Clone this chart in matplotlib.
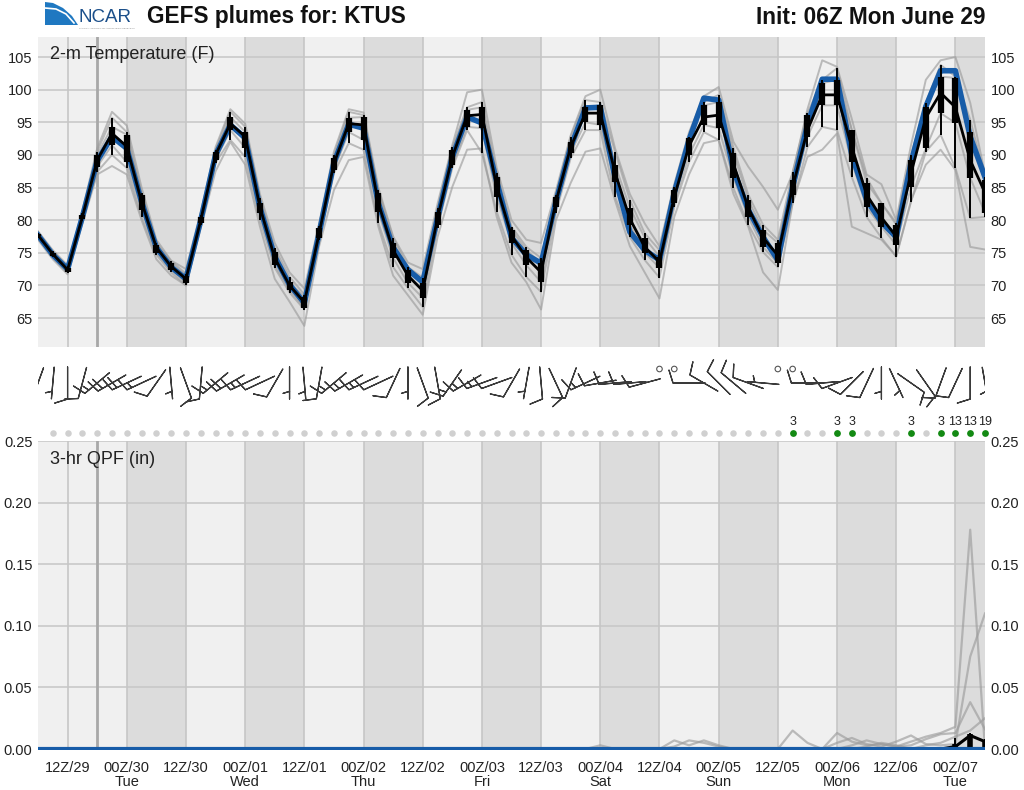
import numpy as np
import matplotlib
matplotlib.use("Agg")
import matplotlib.pyplot as plt
from matplotlib import font_manager
from matplotlib.patches import Polygon

plt.rcParams['font.family'] = ['Liberation Sans', 'DejaVu Sans']

# ---------------- data ----------------
# 3-hourly steps from 06Z/29 to 06Z/07 (65 points)
t_blue = [77.7, 74.7, 72.5, 80.5, 89.1, 92.8, 91.0, 82.8, 75.8, 72.8,
          71.0, 80.0, 90.0, 94.6, 92.6, 81.9, 74.4, 70.1, 67.3, 78.0,
          88.8, 94.7, 94.1, 82.6, 75.8, 72.4, 70.5, 80.3, 89.7, 95.8,
          94.9, 85.9, 77.3, 74.7, 73.4, 82.8, 91.2, 97.2, 97.3, 86.5,
          78.2, 75.4, 73.9, 84.2, 92.3, 98.7, 98.4, 87.7, 81.6, 77.4,
          73.9, 85.1, 94.6, 101.6, 101.6, 90.0, 83.1, 79.7, 77.4, 88.8,
          97.4, 102.9, 102.9, 92.8, 86.6]
t_med = [77.7, 74.8, 72.4, 80.5, 89.2, 93.3, 91.3, 82.8, 75.8, 72.9,
         71.0, 80.0, 90.0, 94.8, 92.8, 82.0, 74.2, 70.0, 67.4, 78.0,
         88.7, 94.8, 94.6, 82.6, 75.4, 71.5, 69.2, 80.3, 89.7, 96.0,
         96.2, 85.2, 77.6, 74.3, 72.0, 82.8, 91.2, 96.4, 96.4, 87.3,
         80.2, 75.9, 73.6, 83.6, 91.4, 95.8, 96.1, 88.6, 81.9, 77.3,
         74.6, 85.1, 93.8, 99.2, 99.2, 91.2, 83.9, 80.4, 77.5, 87.2,
         95.7, 99.5, 97.3, 89.2, 84.2]
t_qlo = [77.5, 74.5, 72.1, 80.2, 88.2, 91.5, 88.9, 81.6, 75.0, 72.4,
         70.4, 79.5, 89.2, 93.8, 91.1, 81.1, 73.1, 69.3, 66.6, 77.3,
         87.7, 93.5, 92.3, 81.3, 74.2, 70.4, 68.1, 79.3, 88.5, 94.3,
         94.1, 83.6, 76.5, 73.1, 70.5, 82.0, 90.3, 95.0, 94.6, 85.9,
         79.3, 75.0, 72.7, 82.6, 90.0, 94.6, 94.1, 86.5, 80.5, 75.9,
         73.4, 83.9, 92.8, 97.6, 97.6, 88.9, 82.0, 79.0, 76.2, 85.1,
         91.0, 96.4, 94.9, 86.5, 81.1]
t_qhi = [77.9, 75.0, 72.7, 80.8, 90.0, 94.3, 93.1, 83.9, 76.2, 73.4,
         71.5, 80.5, 90.5, 95.8, 93.5, 82.6, 75.1, 70.5, 68.2, 78.8,
         89.5, 95.7, 95.8, 84.2, 76.5, 72.4, 70.4, 81.3, 90.8, 96.9,
         97.3, 86.6, 78.5, 75.4, 73.4, 83.6, 92.0, 97.3, 97.6, 88.5,
         81.9, 77.3, 74.4, 84.6, 92.6, 97.6, 98.1, 90.3, 83.1, 78.5,
         76.5, 86.2, 96.1, 101.0, 101.5, 93.8, 85.7, 82.6, 79.3, 89.2,
         97.3, 102.0, 101.8, 93.5, 86.2]
t_wlo = [77.3, 74.3, 71.9, 79.9, 87.4, 90.0, 88.0, 80.5, 74.7, 72.0,
         70.0, 79.2, 88.8, 92.3, 89.7, 80.0, 72.7, 68.9, 66.3, 76.9,
         87.2, 91.8, 90.8, 79.6, 72.8, 69.6, 66.7, 78.8, 88.0, 93.8,
         90.3, 81.3, 74.7, 71.3, 69.0, 81.1, 89.5, 93.8, 93.8, 83.6,
         77.4, 73.9, 71.2, 82.0, 88.9, 93.5, 92.3, 84.9, 79.3, 75.1,
         72.8, 82.6, 91.2, 94.3, 93.8, 86.6, 80.5, 77.3, 74.4, 82.8,
         90.5, 93.1, 88.0, 80.3, 80.5]
t_whi = [78.1, 75.2, 72.9, 81.1, 90.5, 95.7, 93.5, 84.2, 76.5, 73.7,
         71.8, 80.8, 90.8, 96.6, 94.3, 83.4, 75.7, 71.3, 68.6, 79.1,
         90.0, 96.6, 96.1, 84.6, 77.3, 72.8, 71.2, 81.9, 91.2, 97.3,
         98.1, 87.2, 79.0, 75.9, 74.2, 83.9, 92.8, 98.4, 98.1, 90.5,
         83.1, 78.0, 75.4, 85.1, 92.8, 98.1, 99.2, 91.1, 83.9, 79.3,
         77.0, 87.4, 96.4, 101.5, 103.3, 93.8, 86.5, 82.6, 79.6, 90.0,
         98.0, 103.8, 102.0, 95.4, 86.6]
t_min = [77.0, 74.0, 71.7, 79.5, 87.0, 88.3, 87.0, 80.0, 74.0, 71.5,
         70.0, 78.8, 87.5, 92.0, 88.5, 79.0, 71.0, 67.5, 63.8, 76.0,
         84.6, 89.2, 89.7, 79.0, 71.5, 68.5, 65.5, 77.4, 85.1, 90.8,
         91.0, 80.5, 73.5, 70.5, 66.3, 80.0, 85.7, 90.5, 91.0, 83.0,
         76.0, 72.0, 68.0, 80.5, 87.0, 91.8, 92.3, 84.0, 79.0, 72.0,
         69.3, 82.6, 89.7, 90.8, 93.3, 79.0, 78.0, 77.0, 74.5, 83.0,
         88.5, 90.8, 87.7, 75.9, 75.5]
t_max = [78.3, 75.4, 73.1, 81.5, 91.0, 96.6, 94.5, 85.0, 77.0, 73.8,
         72.5, 81.2, 91.2, 97.0, 94.8, 84.0, 76.5, 72.0, 69.5, 79.5,
         90.5, 97.0, 96.5, 85.0, 77.5, 73.5, 72.5, 82.5, 91.5, 99.6,
         100.0, 88.0, 80.0, 77.0, 76.5, 84.5, 93.0, 99.0, 100.0, 91.0,
         84.0, 79.5, 76.0, 85.5, 93.5, 99.0, 100.4, 92.0, 88.2, 85.1,
         81.6, 87.2, 97.0, 104.5, 103.5, 95.5, 87.0, 85.5, 80.0, 91.5,
         101.5, 104.5, 105.0, 98.0, 87.0]

# 3-hr QPF (in)
q_blue = [0.0, 0.0, 0.0, 0.0, 0.0, 0.0, 0.0, 0.0, 0.0, 0.0, 0.0, 0.0, 0.0,
          0.0, 0.0, 0.0, 0.0, 0.0, 0.0, 0.0, 0.0, 0.0, 0.0, 0.0, 0.0, 0.0,
          0.0, 0.0, 0.0, 0.0, 0.0, 0.0, 0.0, 0.0, 0.0, 0.0, 0.0, 0.0, 0.0,
          0.0, 0.0, 0.0, 0.0, 0.0, 0.0, 0.0, 0.0, 0.0, 0.0, 0.0, 0.0, 0.0,
          0.0, 0.0, 0.0, 0.0, 0.0, 0.0, 0.0, 0.0, 0.0, 0.0, 0.0, 0.0, 0.0]
q_med = [0.0, 0.0, 0.0, 0.0, 0.0, 0.0, 0.0, 0.0, 0.0, 0.0, 0.0, 0.0, 0.0,
         0.0, 0.0, 0.0, 0.0, 0.0, 0.0, 0.0, 0.0, 0.0, 0.0, 0.0, 0.0, 0.0,
         0.0, 0.0, 0.0, 0.0, 0.0, 0.0, 0.0, 0.0, 0.0, 0.0, 0.0, 0.0, 0.0,
         0.0, 0.0, 0.0, 0.0, 0.0, 0.0, 0.0, 0.0, 0.0, 0.0, 0.0, 0.0, 0.0,
         0.0, 0.0, 0.0, 0.0, 0.0, 0.0, 0.0, 0.0, 0.0, 0.0, 0.002, 0.011, 0.006]
q_qhi = [0.0, 0.0, 0.0, 0.0, 0.0, 0.0, 0.0, 0.0, 0.0, 0.0, 0.0, 0.0, 0.0,
         0.0, 0.0, 0.0, 0.0, 0.0, 0.0, 0.0, 0.0, 0.0, 0.0, 0.0, 0.0, 0.0,
         0.0, 0.0, 0.0, 0.0, 0.0, 0.0, 0.0, 0.0, 0.0, 0.0, 0.0, 0.0, 0.0,
         0.0, 0.0, 0.0, 0.0, 0.0, 0.0, 0.0, 0.0, 0.0, 0.0, 0.0, 0.0, 0.0,
         0.0, 0.0, 0.0, 0.0, 0.0, 0.0, 0.0, 0.0, 0.0, 0.0, 0.004, 0.012, 0.006]
q_whi = [0.0, 0.0, 0.0, 0.0, 0.0, 0.0, 0.0, 0.0, 0.0, 0.0, 0.0, 0.0, 0.0,
         0.0, 0.0, 0.0, 0.0, 0.0, 0.0, 0.0, 0.0, 0.0, 0.0, 0.0, 0.0, 0.0,
         0.0, 0.0, 0.0, 0.0, 0.0, 0.0, 0.0, 0.0, 0.0, 0.0, 0.0, 0.0, 0.0,
         0.0, 0.0, 0.0, 0.0, 0.0, 0.0, 0.0, 0.0, 0.0, 0.0, 0.0, 0.0, 0.0,
         0.0, 0.0, 0.0, 0.002, 0.002, 0.002, 0.002, 0.0, 0.0, 0.0, 0.009, 0.013, 0.008]
q_m1 = [0.0, 0.0, 0.0, 0.0, 0.0, 0.0, 0.0, 0.0, 0.0, 0.0, 0.0, 0.0, 0.0,
        0.0, 0.0, 0.0, 0.0, 0.0, 0.0, 0.0, 0.0, 0.0, 0.0, 0.0, 0.0, 0.0,
        0.0, 0.0, 0.0, 0.0, 0.0, 0.0, 0.0, 0.0, 0.0, 0.0, 0.0, 0.0, 0.003,
        0.0, 0.0, 0.0, 0.0, 0.007, 0.003, 0.007, 0.003, 0.0, 0.0, 0.0, 0.0, 0.0,
        0.0, 0.0, 0.0, 0.0, 0.0, 0.0, 0.0, 0.0, 0.0, 0.0, 0.0, 0.0, 0.0]
q_m2 = [0.0, 0.0, 0.0, 0.0, 0.0, 0.0, 0.0, 0.0, 0.0, 0.0, 0.0, 0.0, 0.0,
        0.0, 0.0, 0.0, 0.0, 0.0, 0.0, 0.0, 0.0, 0.0, 0.0, 0.0, 0.0, 0.0,
        0.0, 0.0, 0.0, 0.0, 0.0, 0.0, 0.0, 0.0, 0.0, 0.0, 0.0, 0.0, 0.0,
        0.0, 0.0, 0.0, 0.0, 0.002, 0.007, 0.005, 0.002, 0.0, 0.0, 0.0, 0.0, 0.015,
        0.005, 0.0, 0.0, 0.0, 0.0, 0.0, 0.0, 0.0, 0.0, 0.0, 0.0, 0.0, 0.0]
q_m3 = [0.0, 0.0, 0.0, 0.0, 0.0, 0.0, 0.0, 0.0, 0.0, 0.0, 0.0, 0.0, 0.0,
        0.0, 0.0, 0.0, 0.0, 0.0, 0.0, 0.0, 0.0, 0.0, 0.0, 0.0, 0.0, 0.0,
        0.0, 0.0, 0.0, 0.0, 0.0, 0.0, 0.0, 0.0, 0.0, 0.0, 0.0, 0.0, 0.0,
        0.0, 0.0, 0.0, 0.0, 0.0, 0.0, 0.0, 0.0, 0.0, 0.0, 0.0, 0.0, 0.0,
        0.0, 0.0, 0.013, 0.006, 0.003, 0.004, 0.002, 0.006, 0.010, 0.013, 0.018, 0.178, 0.0]
q_m4 = [0.0, 0.0, 0.0, 0.0, 0.0, 0.0, 0.0, 0.0, 0.0, 0.0, 0.0, 0.0, 0.0,
        0.0, 0.0, 0.0, 0.0, 0.0, 0.0, 0.0, 0.0, 0.0, 0.0, 0.0, 0.0, 0.0,
        0.0, 0.0, 0.0, 0.0, 0.0, 0.0, 0.0, 0.0, 0.0, 0.0, 0.0, 0.0, 0.0,
        0.0, 0.0, 0.0, 0.0, 0.0, 0.0, 0.0, 0.0, 0.0, 0.0, 0.0, 0.0, 0.0,
        0.0, 0.0, 0.005, 0.009, 0.004, 0.002, 0.006, 0.011, 0.004, 0.003, 0.004, 0.075, 0.110]
q_m5 = [0.0, 0.0, 0.0, 0.0, 0.0, 0.0, 0.0, 0.0, 0.0, 0.0, 0.0, 0.0, 0.0,
        0.0, 0.0, 0.0, 0.0, 0.0, 0.0, 0.0, 0.0, 0.0, 0.0, 0.0, 0.0, 0.0,
        0.0, 0.0, 0.0, 0.0, 0.0, 0.0, 0.0, 0.0, 0.0, 0.0, 0.0, 0.0, 0.0,
        0.0, 0.0, 0.0, 0.0, 0.0, 0.0, 0.0, 0.0, 0.0, 0.0, 0.0, 0.0, 0.0,
        0.0, 0.0, 0.0, 0.003, 0.007, 0.004, 0.002, 0.003, 0.008, 0.012, 0.013, 0.038, 0.016]
q_m6 = [0.0, 0.0, 0.0, 0.0, 0.0, 0.0, 0.0, 0.0, 0.0, 0.0, 0.0, 0.0, 0.0,
        0.0, 0.0, 0.0, 0.0, 0.0, 0.0, 0.0, 0.0, 0.0, 0.0, 0.0, 0.0, 0.0,
        0.0, 0.0, 0.0, 0.0, 0.0, 0.0, 0.0, 0.0, 0.0, 0.0, 0.0, 0.0, 0.0,
        0.0, 0.0, 0.0, 0.0, 0.0, 0.0, 0.0, 0.0, 0.0, 0.0, 0.0, 0.0, 0.0,
        0.0, 0.0, 0.0, 0.0, 0.002, 0.005, 0.003, 0.0, 0.003, 0.005, 0.010, 0.015, 0.025]

# number of members with precip (shown above QPF panel)
pop = [0, 0, 0, 0, 0, 0, 0, 0, 0, 0, 0, 0, 0,
       0, 0, 0, 0, 0, 0, 0, 0, 0, 0, 0, 0, 0,
       0, 0, 0, 0, 0, 0, 0, 0, 0, 0, 0, 0, 0,
       0, 0, 0, 0, 0, 0, 0, 0, 0, 0, 0, 0, 3,
       0, 0, 3, 3, 0, 0, 0, 3, 0, 3, 13, 13, 19]

# wind direction (deg from) and speed (kt)
w_dir = [200, 185, 180, 195, 230, 240, 245, 245, 215, 175,
         160, 185, 230, 240, 245, 245, 210, 180, 175, 190,
         230, 240, 245, 245, 205, 180, 160, 170, 215, 240,
         250, 250, 210, 190, 175, 155, 200, 245, 260, 265,
         265, 255, 0, 0, 270, 300, 315, 310, 290, 275,
         0, 0, 270, 265, 250, 225, 205, 180, 155, 125,
         145, 200, 205, 180, 170]
w_spd = [10, 5, 10, 10, 15, 20, 20, 15, 10, 5,
         10, 10, 15, 20, 15, 10, 10, 5, 5, 10,
         15, 15, 15, 10, 10, 5, 10, 10, 15, 15,
         15, 10, 10, 5, 10, 10, 10, 15, 10, 10,
         10, 10, 0, 0, 10, 10, 10, 10, 10, 5,
         0, 0, 10, 10, 10, 10, 10, 5, 5, 10,
         10, 10, 10, 10, 5]

tick_pos = [2, 6, 10, 14, 18, 22, 26, 30, 34, 38, 42, 46, 50, 54, 58, 62]
tick_labels = ["12Z/29", "00Z/30\nTue", "12Z/30", "00Z/01\nWed", "12Z/01",
               "00Z/02\nThu", "12Z/02", "00Z/03\nFri", "12Z/03", "00Z/04\nSat",
               "12Z/04", "00Z/05\nSun", "12Z/05", "00Z/06\nMon", "12Z/06",
               "00Z/07\nTue"]
night_start = [6, 14, 22, 30, 38, 46, 54, 62]   # 00Z
night_end = [10, 18, 26, 34, 42, 50, 58, 66]    # 12Z
marker_pos = 4   # 18Z/29

# ---------------- style ----------------
BLUE = "#175ca8"
LIGHT = "#f0f0f0"
DARK = "#dcdcdc"
GRID = "#c6c6c6"
GRAY = "#9c9c9c"

W, H = 1024, 790
fig = plt.figure(figsize=(W / 100, H / 100), dpi=100)


def rect(x0, y0, x1, y1):
    return [x0 / W, 1 - y1 / H, (x1 - x0) / W, (y1 - y0) / H]


try:
    font_manager.findfont("Liberation Sans Narrow", fallback_to_default=False)
    NARROW = ["Liberation Sans Narrow", "Liberation Sans", "DejaVu Sans"]
except Exception:
    NARROW = ["Liberation Sans", "DejaVu Sans"]

x = np.arange(len(t_blue))
XMAX = len(t_blue) - 1


def background(ax):
    ax.set_facecolor(LIGHT)
    for s, e in zip(night_start, night_end):
        ax.axvspan(s, min(e, XMAX), color=DARK, lw=0, zorder=0)
    for p in tick_pos:
        ax.axvline(p, color=GRID, lw=1.2, zorder=1)
    ax.axvline(marker_pos, color="#a8a8a8", lw=2.0, zorder=1)
    for s in ax.spines.values():
        s.set_visible(False)
    ax.set_xlim(0, XMAX)
    ax.yaxis.grid(True, color=GRID, lw=1.1, zorder=1)
    ax.set_axisbelow(True)
    ax.tick_params(axis="y", length=0, labelleft=True, labelright=True,
                   labelsize=10.5, labelcolor="#222222", pad=4)


# ---- temperature panel ----
ax_t = fig.add_axes(rect(38, 37, 985, 347))
background(ax_t)
ax_t.set_ylim(60.56, 108.07)
ax_t.set_yticks([65, 70, 75, 80, 85, 90, 95, 100, 105])
ax_t.set_xticks(tick_pos)
ax_t.tick_params(axis="x", length=0, labelbottom=False)
for arr in (t_min, t_max, t_wlo, t_whi, t_qlo, t_qhi):
    ax_t.plot(x, arr, color=GRAY, lw=1.4, alpha=0.65, zorder=3)
ax_t.plot(x, t_blue, color=BLUE, lw=4.0, zorder=4)
ax_t.plot(x, t_med, color="black", lw=2.0, zorder=5)
ax_t.vlines(x, t_wlo, t_whi, color="black", lw=1.4, zorder=5)
ax_t.vlines(x, t_qlo, t_qhi, color="black", lw=4.5, zorder=6)
ax_t.text(12 / 947, 0.942, "2-m Temperature (F)", transform=ax_t.transAxes,
          fontsize=13, color="#222222", va="center", ha="left", zorder=7)

# ---- wind barbs ----
ax_w = fig.add_axes(rect(38, 355, 985, 411))
ax_w.set_xlim(0, XMAX)
ax_w.set_ylim(-1, 1)
ax_w.axis("off")
d = np.radians(np.array(w_dir, dtype=float))
s = np.array(w_spd, dtype=float)
u = -s * np.sin(d)
v = -s * np.cos(d)
windy = s > 0
ax_w.barbs(x[windy], np.zeros(windy.sum()), u[windy], v[windy],
           length=6.8, pivot="middle", color="#3a3a3a", linewidth=0.9,
           sizes=dict(height=0.4, spacing=0.16, width=0.25))
ax_w.scatter(x[~windy], np.full((~windy).sum(), 0.5), s=16,
             facecolors="none", edgecolors="#555555", linewidths=0.8)

# ---- QPF panel ----
ax_q = fig.add_axes(rect(38, 441, 985, 750))
background(ax_q)
ax_q.set_ylim(-0.0008, 0.25)
ax_q.set_yticks([0.0, 0.05, 0.10, 0.15, 0.20, 0.25])
ax_q.set_yticklabels(["0.00", "0.05", "0.10", "0.15", "0.20", "0.25"])
for arr in (q_m1, q_m2, q_m3, q_m4, q_m5, q_m6):
    ax_q.plot(x, arr, color=GRAY, lw=1.6, alpha=0.65, zorder=3)
ax_q.plot(x, q_med, color="black", lw=2.2, zorder=4)
ax_q.vlines(x, 0, q_whi, color="black", lw=1.4, zorder=4)
ax_q.vlines(x, 0, q_qhi, color="black", lw=4.0, zorder=4)
ax_q.plot(x, q_blue, color=BLUE, lw=3.0, zorder=5)
ax_q.text(12 / 947, 0.94, "3-hr QPF (in)", transform=ax_q.transAxes,
          fontsize=13, color="#222222", va="center", ha="left", zorder=7)
ax_q.set_xticks(tick_pos)
ax_q.set_xticklabels(tick_labels, family=NARROW, fontsize=10.5,
                     color="#222222", linespacing=1.0)
ax_q.tick_params(axis="x", length=0, pad=8)

# precip count dots above QPF panel
dot_y = 0.25 + 8 / 308 * 0.25
num_y = 0.25 + 19 / 308 * 0.25
pop_arr = np.array(pop)
xi = x[1:]
pi_ = pop_arr[1:]
ax_q.scatter(xi[pi_ == 0], np.full((pi_ == 0).sum(), dot_y), s=22,
             color="#d0d0d0", lw=0, clip_on=False, zorder=8)
ax_q.scatter(xi[pi_ > 0], np.full((pi_ > 0).sum(), dot_y), s=24,
             color="#138a13", lw=0, clip_on=False, zorder=8)
for xx, pp in zip(xi[pi_ > 0], pi_[pi_ > 0]):
    ax_q.text(xx, num_y, str(pp), ha="center", va="center", fontsize=9,
              color="#222222", family=NARROW, clip_on=False)

# ---- header ----
logo = Polygon([[45 / W, 1 - 2 / H], [53 / W, 1 - 3 / H], [63 / W, 1 - 8 / H],
                [72 / W, 1 - 16 / H], [78 / W, 1 - 25 / H], [45 / W, 1 - 25 / H]],
               closed=True, transform=fig.transFigure, color="#1f78c1", lw=0)
fig.patches.append(logo)
fig.add_artist(plt.Line2D([45 / W, 56 / W, 66 / W, 74 / W],
                          [1 - 8 / H, 1 - 9 / H, 1 - 14 / H, 1 - 23 / H],
                          transform=fig.transFigure, color="white", lw=1.2))
fig.text(78 / W, 1 - 17 / H, "NCAR", fontsize=13.5, color="#1b4f8a",
         va="center", ha="left")
fig.text(79 / W, 1 - 28 / H, "NATIONAL CENTER FOR ATMOSPHERIC RESEARCH",
         fontsize=1.6, color="#888888", va="center", ha="left")
fig.text(147 / W, 1 - 17 / H, "GEFS plumes for: KTUS", fontsize=16.3,
         fontweight="bold", va="center", ha="left", color="#111111")
fig.text(985 / W, 1 - 17 / H, "Init: 06Z Mon June 29", fontsize=16.3,
         fontweight="bold", va="center", ha="right", color="#111111")

fig.savefig("out.png", dpi=100, facecolor="white")
